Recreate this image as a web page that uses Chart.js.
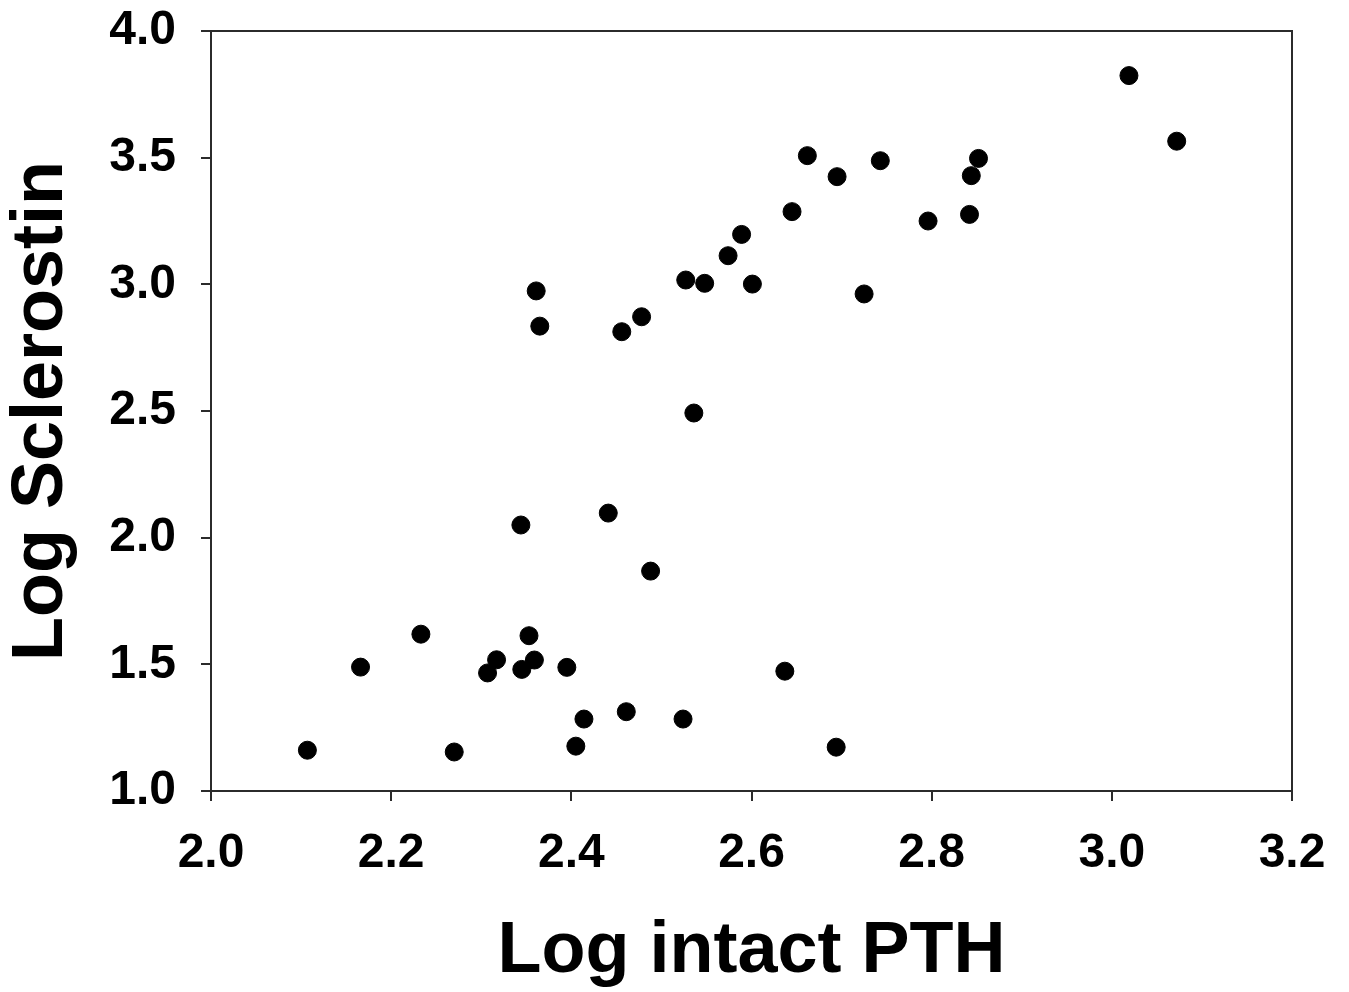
<!DOCTYPE html>
<html>
<head>
<meta charset="utf-8">
<script src="https://cdn.jsdelivr.net/npm/chart.js@4"></script>
<style>
  body { margin: 0; background: #fff; }
  #wrap { width: 1349px; height: 992px; }
</style>
</head>
<body>
<div id="wrap"><canvas id="myChart"></canvas></div>
<script>
// log intact PTH (x) vs log sclerostin (y)
var logPTH = [2.107, 2.166, 2.233, 2.270, 2.307, 2.317, 2.345, 2.353, 2.359, 2.395,
              2.414, 2.405, 2.461, 2.344, 2.441, 2.488, 2.524, 2.637, 2.694, 2.536,
              2.361, 2.365, 2.456, 2.478, 2.527, 2.548, 2.574, 2.589, 2.601, 2.645,
              2.662, 2.695, 2.743, 2.725, 2.796, 2.852, 2.844, 2.842, 3.019, 3.072]
var logScl = [1.161, 1.489, 1.619, 1.154, 1.466, 1.518, 1.480, 1.613, 1.517, 1.488,
              1.284, 1.177, 1.313, 2.050, 2.097, 1.868, 1.284, 1.473, 1.173, 2.492,
              2.974, 2.835, 2.813, 2.872, 3.017, 3.004, 3.113, 3.197, 3.001, 3.287,
              3.508, 3.425, 3.488, 2.962, 3.250, 3.497, 3.429, 3.276, 3.824, 3.565]

var xTicks = [2.0, 2.2, 2.4, 2.6, 2.8, 3.0, 3.2]
var yTicks = [1.0, 1.5, 2.0, 2.5, 3.0, 3.5, 4.0]

var points = []
for (var i = 0; i < logPTH.length; i++) {
  points.push({x: logPTH[i], y: logScl[i]})
}

// top and right edges of the box
var frame = {
  id: 'frame',
  afterDraw: function(chart) {
    var a = chart.chartArea, ctx = chart.ctx
    ctx.save()
    ctx.strokeStyle = '#2b2b2b'
    ctx.lineWidth = 2
    ctx.beginPath()
    ctx.moveTo(a.left, a.top)
    ctx.lineTo(a.right, a.top)
    ctx.lineTo(a.right, a.bottom)
    ctx.stroke()
    ctx.restore()
  }
}

var tickFont = {family: '"Liberation Sans", Arial, sans-serif', size: 48, weight: 'bold'}
var titleFont = {family: '"Liberation Sans", Arial, sans-serif', size: 72, weight: 'bold', lineHeight: 1.1}

new Chart(document.getElementById('myChart').getContext('2d'), {
  type: 'scatter',
  data: {
    datasets: [{
      data: points,
      backgroundColor: '#000',
      borderColor: '#000',
      borderWidth: 1,
      pointRadius: 9,
      pointHoverRadius: 9
    }]
  },
  options: {
    responsive: true,
    maintainAspectRatio: false,
    animation: false,
    layout: {padding: {top: 31, right: 57, left: 0, bottom: 0}},
    plugins: {legend: {display: false}, tooltip: {enabled: false}},
    scales: {
      x: {
        type: 'linear',
        min: 2.0, max: 3.2,
        afterBuildTicks: function(s) { s.ticks = xTicks.map(function(v) { return {value: v} }) },
        afterFit: function(s) { s.height = 201; s.paddingLeft = 0; s.paddingRight = 0 },
        ticks: {
          font: tickFont, color: '#000', padding: 24, maxRotation: 0,
          callback: function(v) { return v.toFixed(1) }
        },
        grid: {display: true, drawOnChartArea: false, drawTicks: true, tickLength: 10, color: '#2b2b2b', lineWidth: 2},
        border: {display: true, color: '#2b2b2b', width: 2},
        title: {display: true, text: 'Log intact PTH', font: titleFont, color: '#000', padding: {top: 0, bottom: 0}}
      },
      y: {
        type: 'linear',
        min: 1.0, max: 4.0,
        afterBuildTicks: function(s) { s.ticks = yTicks.map(function(v) { return {value: v} }) },
        afterFit: function(s) { s.width = 211; s.paddingTop = 0; s.paddingBottom = 0 },
        ticks: {
          font: tickFont, color: '#000', padding: 25,
          callback: function(v) { return v.toFixed(1) }
        },
        grid: {display: true, drawOnChartArea: false, drawTicks: true, tickLength: 10, color: '#2b2b2b', lineWidth: 2},
        border: {display: true, color: '#2b2b2b', width: 2},
        title: {display: true, text: 'Log Sclerostin', font: titleFont, color: '#000', padding: {top: 3, bottom: 0}}
      }
    }
  },
  plugins: [frame]
})
</script>
</body>
</html>
